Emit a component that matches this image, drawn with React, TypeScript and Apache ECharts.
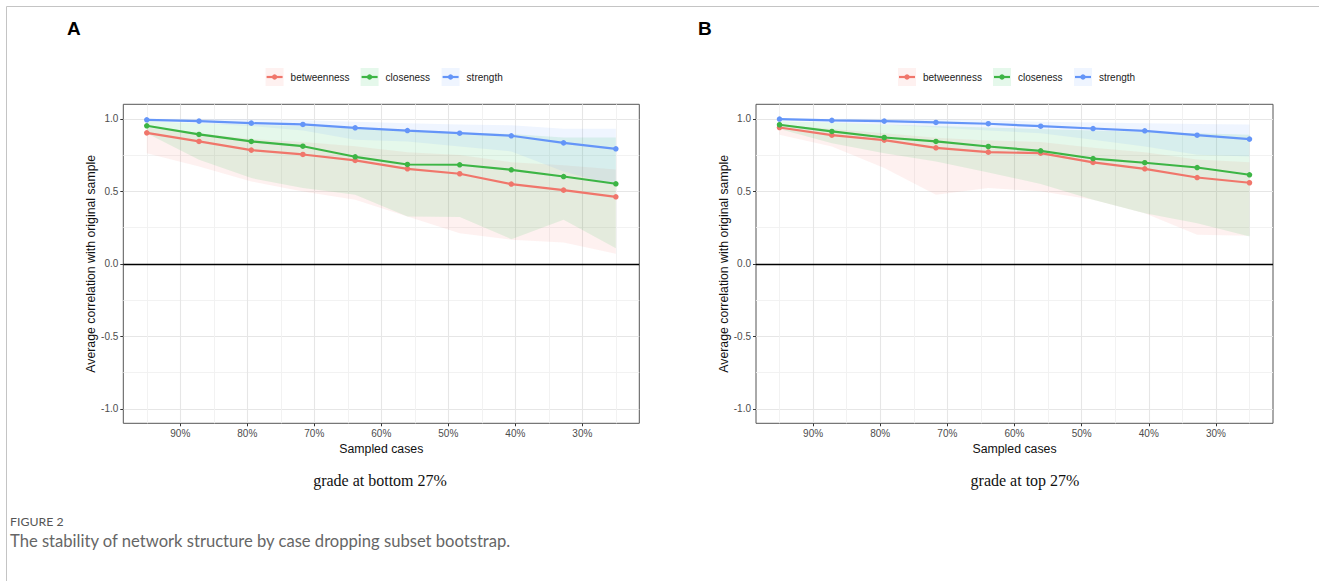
import React, { useEffect, useRef } from "react";
import * as echarts from "echarts";

// ---- data ----
const sampledCases = [95, 87.2, 79.4, 71.7, 63.9, 56.1, 48.3, 40.6, 32.8, 25];
const xTicks = [90, 80, 70, 60, 50, 40, 30];
const xMinorTicks = [95, 85, 75, 65, 55, 45, 35, 25];
const yTicks = [-1, -0.5, 0, 0.5, 1];
const yMinorTicks = [-0.75, -0.25, 0.25, 0.75];
const measures = ["betweenness", "closeness", "strength"];
const panelLetters = ["A", "B"];
const panelSubtitles = ["grade at bottom 27%", "grade at top 27%"];

// Panel A (grade at bottom 27%)
const aBetweenness = [0.903, 0.844, 0.784, 0.754, 0.713, 0.655, 0.621, 0.55, 0.508, 0.462];
const aCloseness = [0.952, 0.892, 0.844, 0.811, 0.738, 0.685, 0.683, 0.648, 0.602, 0.552];
const aStrength = [0.993, 0.984, 0.97, 0.961, 0.938, 0.919, 0.901, 0.883, 0.834, 0.793];
const aBetweennessLow = [0.763, 0.671, 0.568, 0.499, 0.441, 0.326, 0.211, 0.166, 0.147, 0.069];
const aBetweennessHigh = [0.94, 0.9, 0.86, 0.84, 0.81, 0.77, 0.75, 0.7, 0.68, 0.65];
const aClosenessLow = [0.9, 0.717, 0.591, 0.522, 0.476, 0.326, 0.322, 0.17, 0.303, 0.108];
const aClosenessHigh = [0.985, 0.97, 0.96, 0.95, 0.935, 0.92, 0.905, 0.895, 0.871, 0.871];
const aStrengthLow = [0.99, 0.97, 0.95, 0.92, 0.855, 0.844, 0.809, 0.775, 0.637, 0.538];
const aStrengthHigh = [1.0, 1.0, 0.995, 0.99, 0.98, 0.97, 0.96, 0.955, 0.931, 0.931];

// Panel B (grade at top 27%)
const bBetweenness = [0.94, 0.887, 0.853, 0.8, 0.77, 0.763, 0.699, 0.655, 0.595, 0.559];
const bCloseness = [0.959, 0.913, 0.871, 0.844, 0.809, 0.779, 0.726, 0.697, 0.664, 0.614];
const bStrength = [0.998, 0.989, 0.984, 0.975, 0.966, 0.949, 0.933, 0.917, 0.887, 0.86];
const bBetweennessLow = [0.89, 0.809, 0.66, 0.476, 0.522, 0.5, 0.441, 0.349, 0.2, 0.193];
const bBetweennessHigh = [0.96, 0.93, 0.9, 0.87, 0.85, 0.84, 0.8, 0.77, 0.72, 0.7];
const bClosenessLow = [0.93, 0.832, 0.763, 0.706, 0.63, 0.55, 0.441, 0.349, 0.28, 0.189];
const bClosenessHigh = [0.985, 0.975, 0.96, 0.95, 0.94, 0.93, 0.92, 0.91, 0.9, 0.89];
const bStrengthLow = [0.99, 0.975, 0.96, 0.94, 0.92, 0.9, 0.855, 0.809, 0.752, 0.74];
const bStrengthHigh = [1.0, 1.0, 1.0, 0.995, 0.99, 0.98, 0.975, 0.97, 0.965, 0.96];

const lineColors = ["#F0766B", "#3DB545", "#6495F8"];
const fillColors = ["rgba(248,118,109,0.1)", "rgba(0,186,56,0.1)", "rgba(97,156,255,0.1)"];

const panels = [
  {
    lines: [aBetweenness, aCloseness, aStrength],
    lows: [aBetweennessLow, aClosenessLow, aStrengthLow],
    highs: [aBetweennessHigh, aClosenessHigh, aStrengthHigh],
  },
  {
    lines: [bBetweenness, bCloseness, bStrength],
    lows: [bBetweennessLow, bClosenessLow, bStrengthLow],
    highs: [bBetweennessHigh, bClosenessHigh, bStrengthHigh],
  },
];

const FONT = "'Liberation Sans', Arial, sans-serif";

function buildOption() {
  const gridLefts = [123.3, 756];
  const gridWidths = [516, 517];
  const grids = gridLefts.map((l, i) => ({
    left: l,
    top: 104.3,
    width: gridWidths[i],
    height: 319,
    show: true,
    borderColor: "#555",
    borderWidth: 1,
    backgroundColor: "#fff",
    containLabel: false,
  }));

  const xAxes: any[] = [];
  const yAxes: any[] = [];
  [0, 1].forEach((g) => {
    xAxes.push({
      type: "value",
      gridIndex: g,
      min: 21.5,
      max: 98.5,
      inverse: true,
      position: "bottom",
      axisLine: { show: false, onZero: false },
      axisTick: { show: true, length: 3, lineStyle: { color: "#333" }, customValues: xTicks },
      axisLabel: {
        show: true,
        customValues: xTicks,
        formatter: (v: number) => `${Math.round(v)}%`,
        color: "#4d4d4d",
        fontSize: 10,
        margin: 5,
        fontFamily: FONT,
      },
      splitLine: { show: true, lineStyle: { color: "#e6e6e6", width: 1.1 } },
      name: "Sampled cases",
      nameLocation: "middle",
      nameGap: 17,
      nameTextStyle: { color: "#111", fontSize: 12.3, fontFamily: FONT },
    });
    xAxes.push({
      type: "value",
      gridIndex: g,
      min: 21.5,
      max: 98.5,
      inverse: true,
      position: "top",
      axisLine: { show: false, onZero: false },
      axisTick: { show: false, customValues: xMinorTicks },
      axisLabel: { show: false, customValues: xMinorTicks },
      splitLine: { show: true, lineStyle: { color: "#f1f1f1", width: 0.9 } },
    });
    yAxes.push({
      type: "value",
      gridIndex: g,
      min: -1.1,
      max: 1.1,
      position: "left",
      axisLine: { show: false, onZero: false },
      axisTick: { show: true, length: 3, lineStyle: { color: "#333" }, customValues: yTicks },
      axisLabel: {
        show: true,
        customValues: yTicks,
        formatter: (v: number) => v.toFixed(1),
        color: "#4d4d4d",
        fontSize: 10,
        margin: 5,
        fontFamily: FONT,
      },
      splitLine: { show: true, lineStyle: { color: "#e6e6e6", width: 1.1 } },
      name: "Average correlation with original sample",
      nameLocation: "middle",
      nameGap: 26,
      nameRotate: 90,
      nameTextStyle: { color: "#111", fontSize: 12.3, fontFamily: FONT },
    });
    yAxes.push({
      type: "value",
      gridIndex: g,
      min: -1.1,
      max: 1.1,
      position: "right",
      axisLine: { show: false, onZero: false },
      axisTick: { show: false, customValues: yMinorTicks },
      axisLabel: { show: false, customValues: yMinorTicks },
      splitLine: { show: true, lineStyle: { color: "#f1f1f1", width: 0.9 } },
    });
  });

  const series: any[] = [];
  panels.forEach((p, g) => {
    const ax = g * 2;
    // ribbons (quantile bands) as polygons through the axis scales
    measures.forEach((m, k) => {
      const rows = sampledCases.map((x, i) => [x, p.lows[k][i], p.highs[k][i]]);
      series.push({
        type: "custom",
        name: `${m} band`,
        xAxisIndex: ax,
        yAxisIndex: ax,
        data: rows,
        encode: { x: 0, y: [1, 2] },
        silent: true,
        z: 1,
        renderItem: (params: any, api: any) => {
          if (params.dataIndex !== 0) return null;
          const upper = rows.map((r) => api.coord([r[0], r[2]]));
          const lower = rows.map((r) => api.coord([r[0], r[1]])).reverse();
          return {
            type: "polygon",
            shape: { points: upper.concat(lower) },
            style: { fill: fillColors[k], stroke: "none" },
          };
        },
      });
    });
    // lines
    measures.forEach((m, k) => {
      const s: any = {
        type: "line",
        name: m,
        xAxisIndex: ax,
        yAxisIndex: ax,
        data: sampledCases.map((x, i) => [x, p.lines[k][i]]),
        symbol: "circle",
        symbolSize: 5.5,
        showSymbol: true,
        itemStyle: { color: lineColors[k] },
        lineStyle: { color: lineColors[k], width: 2.2 },
        silent: true,
        z: 3,
      };
      if (k === 0) {
        s.markLine = {
          silent: true,
          symbol: ["none", "none"],
          label: { show: false },
          lineStyle: { color: "#000", width: 1.4, type: "solid" },
          data: [{ yAxis: 0 }],
        };
      }
      series.push(s);
    });
  });

  // graphic: legends, letters, subtitles, caption, frame
  const graphic: any[] = [];
  graphic.push({ type: "line", shape: { x1: 6.5, y1: 6.5, x2: 1319, y2: 6.5 }, style: { stroke: "#c4c4c4", lineWidth: 1 } });
  graphic.push({ type: "line", shape: { x1: 6.5, y1: 6.5, x2: 6.5, y2: 581 }, style: { stroke: "#c4c4c4", lineWidth: 1 } });

  const legendStarts = [265.6, 898];
  const legendOffsets = [0, 95, 176];
  const letterX = [67, 698];
  const subtitleX = [380, 1025];
  [0, 1].forEach((g) => {
    graphic.push({
      type: "text",
      x: letterX[g],
      y: 28,
      style: { text: panelLetters[g], font: `bold 19px ${FONT}`, fill: "#000", verticalAlign: "middle", align: "left" },
    });
    graphic.push({
      type: "text",
      x: subtitleX[g],
      y: 480,
      style: { text: panelSubtitles[g], font: `16px 'Liberation Serif', 'Times New Roman', serif`, fill: "#111", verticalAlign: "middle", align: "center" },
    });
    measures.forEach((m, k) => {
      const bx = legendStarts[g] + legendOffsets[k];
      const cy = 77;
      graphic.push({ type: "rect", shape: { x: bx, y: cy - 9, width: 18, height: 18 }, style: { fill: fillColors[k] } });
      graphic.push({ type: "line", shape: { x1: bx + 1, y1: cy, x2: bx + 17, y2: cy }, style: { stroke: lineColors[k], lineWidth: 2.2 } });
      graphic.push({ type: "circle", shape: { cx: bx + 9, cy, r: 2.7 }, style: { fill: lineColors[k] } });
      graphic.push({
        type: "text",
        x: bx + 25,
        y: cy,
        style: { text: m, font: `10px ${FONT}`, fill: "#222", verticalAlign: "middle", align: "left" },
      });
    });
  });
  graphic.push({
    type: "text",
    x: 10,
    y: 521,
    style: { text: "FIGURE 2", font: `12.3px Lato, 'Open Sans', sans-serif`, fill: "#555", verticalAlign: "middle" },
  });
  graphic.push({
    type: "text",
    x: 10,
    y: 541,
    style: {
      text: "The stability of network structure by case dropping subset bootstrap.",
      font: `16.6px Lato, 'Open Sans', sans-serif`,
      fill: "#666",
      verticalAlign: "middle",
    },
  });

  return {
    animation: false,
    backgroundColor: "#fff",
    textStyle: { fontFamily: FONT },
    grid: grids,
    xAxis: xAxes,
    yAxis: yAxes,
    series,
    graphic,
  };
}

export default function App() {
  const ref = useRef<HTMLDivElement>(null);
  useEffect(() => {
    if (!ref.current) return;
    const chart = echarts.init(ref.current, undefined, { renderer: "svg" });
    chart.setOption(buildOption() as any);
    return () => chart.dispose();
  }, []);
  return (
    <div
      ref={ref}
      style={{ position: "absolute", left: 0, top: 0, width: 1319, height: 581, background: "#fff" }}
    />
  );
}
